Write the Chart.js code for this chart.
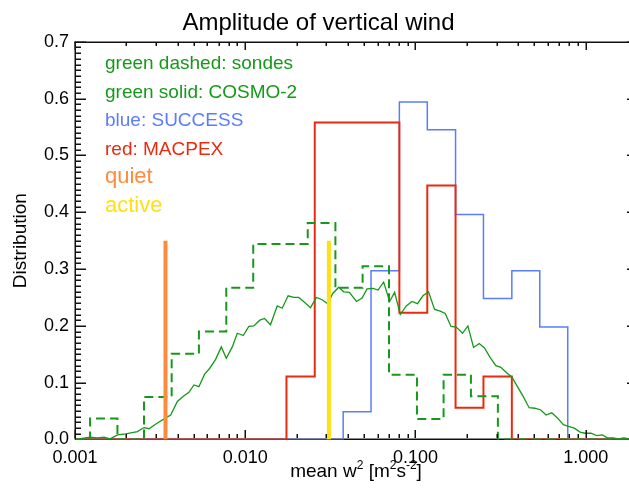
<!DOCTYPE html>
<html>
<head>
<meta charset="utf-8">
<script src="https://cdn.jsdelivr.net/npm/chart.js@4.4.1/dist/chart.umd.min.js"></script>
<style>
  html, body { margin: 0; padding: 0; background: #fff; overflow: hidden; }
  #wrap { width: 650px; height: 490px; }
</style>
</head>
<body>
<div id="wrap"><canvas id="myChart"></canvas></div>
<script>
// axis range and tick labels
const xMin = 0.001;
const xMax = 2.0;
const xTickValues = [0.001, 0.01, 0.1, 1.0];
const yMax = 0.7;

// green dashed: sondes (bin edges + heights)
const sondeEdges = [0.001226, 0.001775, 0.002543, 0.003696, 0.005343, 0.007737, 0.01114, 0.0161,
    0.02328, 0.03385, 0.0489, 0.0699, 0.1020, 0.1462, 0.2116, 0.3047];
const sondeValues = [0.037, 0.0, 0.075, 0.151, 0.190, 0.267, 0.344, 0.344,
    0.381, 0.267, 0.305, 0.114, 0.036, 0.114, 0.076];

// blue: SUCCESS
const successEdges = [0.0376, 0.0548, 0.0804, 0.1173, 0.1719, 0.2507, 0.368, 0.537, 0.784];
const successValues = [0.049, 0.297, 0.594, 0.545, 0.396, 0.248, 0.297, 0.198];

// red: MACPEX
const macpexEdges = [0.01746, 0.0256, 0.0804, 0.1173, 0.1719, 0.2507, 0.368];
const macpexValues = [0.111, 0.558, 0.223, 0.447, 0.056, 0.111];

// green solid: COSMO-2
const cosmoX = [0.00101, 0.001226, 0.001355, 0.001482, 0.001607, 0.001775, 0.001986, 0.002328, 0.002543, 0.002720,
    0.003048, 0.003411, 0.003648, 0.003993, 0.004329, 0.004667, 0.004995, 0.005343, 0.005771, 0.006174,
    0.006699, 0.007235, 0.007737, 0.008395, 0.008980, 0.009735, 0.01050, 0.01123, 0.01218, 0.01298,
    0.01407, 0.01541, 0.01648, 0.01786, 0.01927, 0.02061, 0.02236, 0.02416, 0.02619, 0.02829,
    0.03051, 0.03264, 0.03540, 0.03788, 0.04091, 0.04497, 0.04857, 0.05193, 0.05632, 0.06026,
    0.06501, 0.07047, 0.07540, 0.08139, 0.08830, 0.09533, 0.1028, 0.1106, 0.1193, 0.1294,
    0.1397, 0.1495, 0.1616, 0.1735, 0.1889, 0.2031, 0.2193, 0.2367, 0.2543, 0.2746,
    0.2965, 0.3173, 0.3441, 0.3681, 0.3971, 0.4306, 0.4649, 0.5042, 0.5446, 0.5851,
    0.6318, 0.6815, 0.7387, 0.7905, 0.8573, 0.9260, 0.9906, 1.074, 1.160, 1.251,
    1.339, 1.452, 1.553, 1.677, 1.795];
const cosmoY = [0.000, 0.004, 0.003, 0.004, 0.001, 0.008, 0.010, 0.014, 0.021, 0.019,
    0.029, 0.038, 0.043, 0.067, 0.076, 0.083, 0.096, 0.093, 0.115, 0.125,
    0.141, 0.163, 0.143, 0.163, 0.187, 0.183, 0.199, 0.200, 0.210, 0.213,
    0.202, 0.235, 0.231, 0.253, 0.250, 0.250, 0.241, 0.232, 0.250, 0.246,
    0.239, 0.257, 0.268, 0.260, 0.259, 0.243, 0.249, 0.265, 0.266, 0.263,
    0.277, 0.243, 0.259, 0.220, 0.235, 0.243, 0.239, 0.253, 0.260, 0.229,
    0.226, 0.222, 0.199, 0.198, 0.187, 0.200, 0.162, 0.169, 0.161, 0.144,
    0.130, 0.127, 0.117, 0.110, 0.093, 0.075, 0.056, 0.055, 0.052, 0.043,
    0.047, 0.038, 0.026, 0.023, 0.020, 0.013, 0.011, 0.011, 0.007, 0.008,
    0.003, 0.003, 0.001, 0.003, 0.001];

// quiet / active markers
const quietX = 0.0034;
const activeX = 0.031;
const markerHeight = 0.35;

const legendLabels = ["green dashed: sondes", "green solid: COSMO-2", "blue: SUCCESS", "red: MACPEX", "quiet", "active"];

const GREEN = "#16991a";
const BLUE = "#5b7cff";
const RED = "#ea2a0e";
const ORANGE = "#ff8a3a";
const YELLOW = "#ffe010";
const legendColors = [GREEN, GREEN, BLUE, RED, ORANGE, YELLOW];

const FONT = "'Liberation Sans', Arial, Helvetica, sans-serif";
Chart.defaults.font.family = FONT;
Chart.defaults.color = "#000";

function stepPoints(edges, values) {
    const pts = [{ x: xMin, y: 0 }];
    edges.forEach(function (e, i) {
        const prev = i > 0 ? values[i - 1] : 0;
        const next = i < values.length ? values[i] : 0;
        pts.push({ x: e, y: prev }, { x: e, y: next });
    });
    pts.push({ x: xMax, y: 0 });
    return pts;
}

// box + inward ticks
function drawFrame(chart) {
    const c = chart.ctx;
    const a = chart.chartArea;
    const xs = chart.scales.x;
    const ys = chart.scales.y;
    const L = Math.round(a.left), R = Math.round(a.right);
    const T = Math.round(a.top), B = Math.round(a.bottom) - 1;
    c.save();
    c.fillStyle = "#111";
    c.fillRect(L - 0.5, T - 0.5, R - L + 1, 1.5);
    c.fillRect(L - 0.5, T - 0.5, 1.5, B - T + 1);
    c.fillRect(R - 0.5, T - 0.5, 1.5, B - T + 1);
    for (let i = 1; i <= 70; i++) {
        const py = Math.round(ys.getPixelForValue(i / 100));
        const len = i % 10 === 0 ? 11 : 6;
        c.fillRect(L, py - 0.5, len, 1.5);
        c.fillRect(R - len + 1, py - 0.5, len, 1.5);
    }
    for (let d = -3; d <= 0; d++) {
        for (let m = 1; m <= 9; m++) {
            const v = m * Math.pow(10, d);
            if (v > xMax) break;
            const px = Math.round(xs.getPixelForValue(v));
            const len = m === 1 ? 8 : 4;
            c.fillRect(px - 0.5, B - len - 1, 1.5, len);
            c.fillRect(px - 0.5, T, 1.5, len);
        }
    }
    c.restore();
}

const frameTicks = {
    id: "frameTicks",
    beforeDatasetsDraw(chart) {
        const c = chart.ctx;
        const a = chart.chartArea;
        c.save();
        c.fillStyle = "#111";
        c.fillRect(a.left, Math.round(a.bottom) - 1.5, a.right - a.left, 1.5);
        c.restore();
    },
    afterDraw(chart) {
        drawFrame(chart);
        const c = chart.ctx;
        const a = chart.chartArea;
        c.save();
        c.textAlign = "left";
        c.textBaseline = "alphabetic";
        legendLabels.forEach(function (t, i) {
            c.font = (i < 4 ? 19 : 22) + "px " + FONT;
            c.fillStyle = legendColors[i];
            c.fillText(t, a.left + 30, a.top + 27.6 + 28.5 * i);
        });
        const parts = [["mean w", 0], ["2", 1], [" [m", 0], ["2", 1], ["s", 0], ["-2", 1], ["]", 0]];
        const big = "19px " + FONT, small = "12px " + FONT;
        let total = 0;
        parts.forEach(function (p) { c.font = p[1] ? small : big; total += c.measureText(p[0]).width; });
        let cx = (a.left + a.right) / 2 - total / 2;
        const base = 477;
        c.fillStyle = "#000";
        parts.forEach(function (p) {
            c.font = p[1] ? small : big;
            c.fillText(p[0], cx, p[1] ? base - 8 : base);
            cx += c.measureText(p[0]).width;
        });
        c.restore();
    }
};

const canvas = document.getElementById("myChart");

new Chart(canvas, {
    type: "scatter",
    data: {
        datasets: [
            {
                label: "active",
                data: [{ x: activeX, y: 0 }, { x: activeX, y: markerHeight }],
                borderColor: YELLOW,
                borderWidth: 4,
            },
            {
                label: "quiet",
                data: [{ x: quietX, y: 0 }, { x: quietX, y: markerHeight }],
                borderColor: ORANGE,
                borderWidth: 4,
            },
            {
                label: "sondes",
                data: stepPoints(sondeEdges, sondeValues),
                borderColor: GREEN,
                borderWidth: 2,
                borderDash: [9, 5],
            },
            {
                label: "COSMO-2",
                data: cosmoX.map(function (v, i) { return { x: v, y: cosmoY[i] }; }),
                borderColor: GREEN,
                borderWidth: 1.3,
            },
            {
                label: "MACPEX",
                data: stepPoints(macpexEdges, macpexValues),
                borderColor: RED,
                borderWidth: 2,
            },
            {
                label: "SUCCESS",
                data: stepPoints(successEdges, successValues),
                borderColor: BLUE,
                borderWidth: 1.5,
            },
        ],
    },
    options: {
        responsive: true,
        maintainAspectRatio: false,
        animation: false,
        showLine: true,
        elements: {
            point: { radius: 0, hoverRadius: 0 },
            line: { tension: 0, fill: false },
        },
        layout: { padding: { left: 0, right: 13, top: 0, bottom: 0 } },
        plugins: {
            legend: { display: false },
            tooltip: { enabled: false },
            title: {
                display: true,
                text: "Amplitude of vertical wind",
                color: "#000",
                font: { size: 24, weight: "normal" },
                padding: { top: 9, bottom: 4 },
            },
        },
        scales: {
            x: {
                type: "logarithmic",
                min: xMin,
                max: xMax,
                grid: { display: false, drawTicks: false },
                border: { display: false },
                afterBuildTicks: function (scale) {
                    scale.ticks = xTickValues.map(function (v) { return { value: v }; });
                },
                afterFit: function (scale) { scale.height = 50.5; },
                ticks: {
                    autoSkip: false,
                    maxRotation: 0,
                    padding: 8,
                    font: { size: 18 },
                    color: "#000",
                    callback: function (v) { return Number(v).toFixed(3); },
                },
            },
            y: {
                min: 0,
                max: yMax,
                grid: { display: false, drawTicks: false },
                border: { display: false },
                afterFit: function (scale) { scale.width = 75; },
                ticks: {
                    stepSize: 0.1,
                    padding: 6,
                    font: { size: 18 },
                    color: "#000",
                    callback: function (v) { return Number(v).toFixed(1); },
                },
                title: {
                    display: true,
                    text: "Distribution",
                    color: "#000",
                    font: { size: 19 },
                    padding: { top: 9, bottom: 0 },
                },
            },
        },
    },
    plugins: [frameTicks],
});
</script>
</body>
</html>
